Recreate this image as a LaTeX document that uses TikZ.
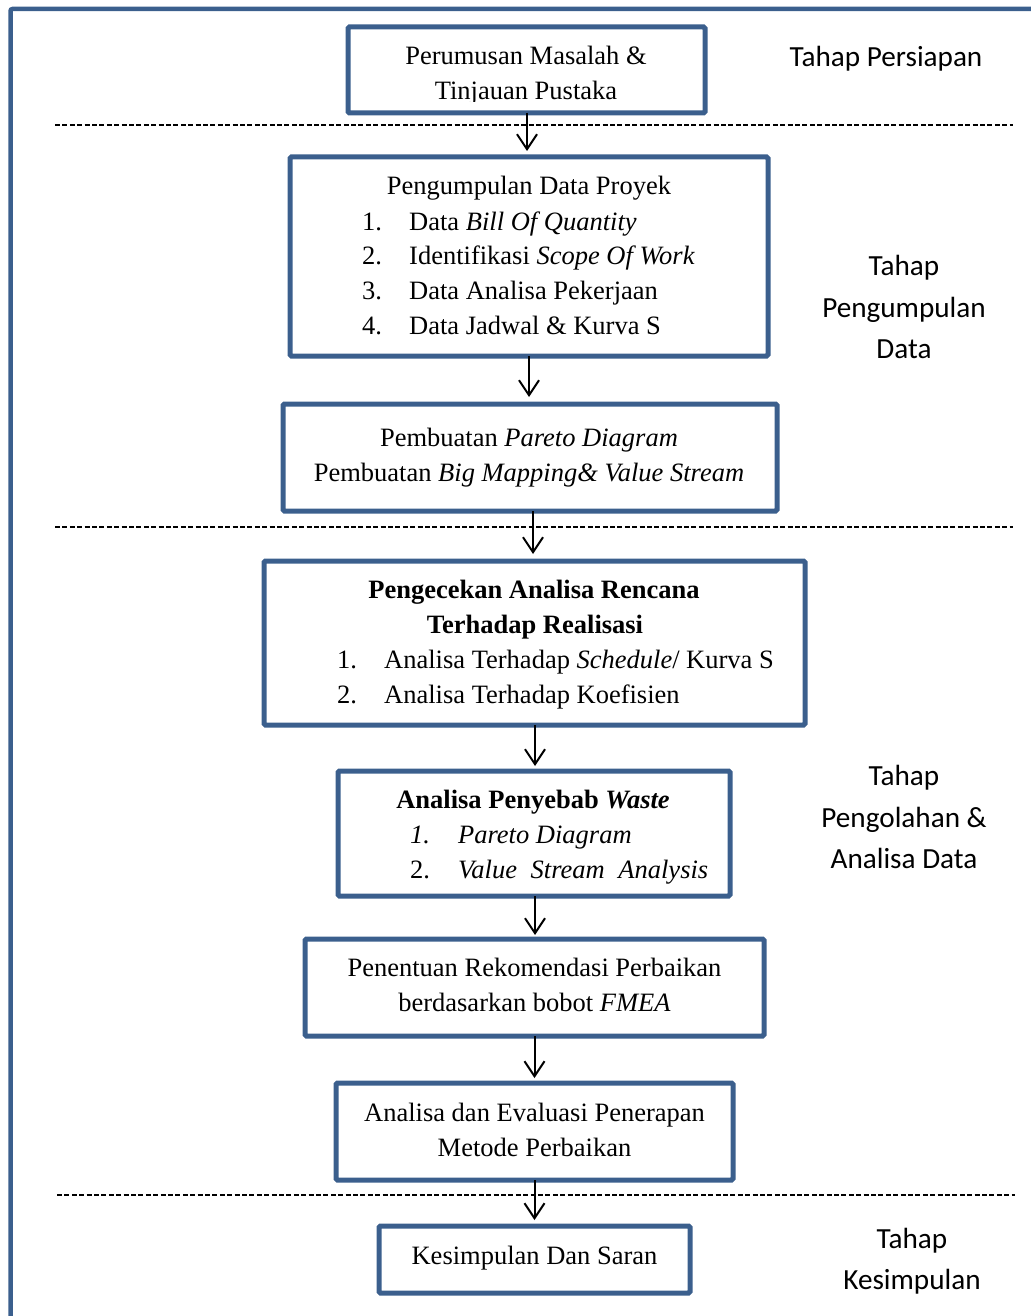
\documentclass[tikz,border=0pt]{standalone}
\usepackage{fontspec}
\setmainfont{Liberation Serif}
\newfontfamily\stagefont{Carlito}
\usetikzlibrary{arrows.meta}
\definecolor{frameblue}{HTML}{3B5F8D}

\begin{document}
\begin{tikzpicture}[x=1pt,y=-1pt,
  box/.style={draw=frameblue, line width=5pt, rounded corners=1.5pt, inner sep=0pt, outer sep=0pt},
  flow/.style={draw=black, line width=2pt, shorten >=1pt,
    -{Straight Barb[length=15pt,width=20pt,line width=2pt]}},
  sep/.style={draw=black, line width=1.8pt, dash pattern=on 5pt off 2.4pt},
  txt/.style={font=\fontsize{26.5}{35}\selectfont, inner sep=0pt, anchor=base},
  item/.style={txt, anchor=base west},
  stage/.style={font=\stagefont\fontsize{29.2}{41}\selectfont, inner sep=0pt, anchor=base}]
\useasboundingbox (0,0) rectangle (1030,1316);

% outer frame, running past the right and bottom edges
\draw[frameblue, line width=4.5pt, rounded corners=2pt] (1060,9) -- (10.5,9) -- (10.5,1340);

% separators between the stages
\coordinate (s1a) at (55,125);   \coordinate (s1b) at (1013,125);
\coordinate (s2a) at (55,527);   \coordinate (s2b) at (1013,527);
\coordinate (s3a) at (57,1195);  \coordinate (s3b) at (1015,1195);
\draw[sep] (s1a) -- (s1b);
\draw[sep] (s2a) -- (s2b);
\draw[sep] (s3a) -- (s3b);

% boxes
\node[box, minimum width=357pt, minimum height=86pt]  (b1) at (526.5,70) {};
\node[box, minimum width=478pt, minimum height=199pt] (b2) at (529,256.5) {};
\node[box, minimum width=494pt, minimum height=107pt] (b3) at (530,457.5) {};
\node[box, minimum width=541pt, minimum height=164pt] (b4) at (534.5,643) {};
\node[box, minimum width=392pt, minimum height=125pt] (b5) at (534,833.5) {};
\node[box, minimum width=459pt, minimum height=97pt]  (b6) at (534.5,987.5) {};
\node[box, minimum width=397pt, minimum height=97pt]  (b7) at (534.5,1131.5) {};
\node[box, minimum width=311pt, minimum height=67pt]  (b8) at (534.5,1259.5) {};

% box texts
\begin{scope}
  \clip (350,30) rectangle (703,102);
  \node[txt] (t1a) at (526,65) {Perumusan Masalah \&};
  \node[txt] (t1b) at (526,100) {Tinjauan Pustaka};
\end{scope}

\node[txt] (t2) at (529,194) {Pengumpulan Data Proyek};
\node[item] (n21) at (362,230) {1.};  \node[item] (i21) at (409,230) {Data \textit{Bill Of Quantity}};
\node[item] (n22) at (362,264) {2.};  \node[item] (i22) at (409,264) {Identifikasi \textit{Scope Of Work}};
\node[item] (n23) at (362,299) {3.};  \node[item] (i23) at (409,299) {Data Analisa Pekerjaan};
\node[item] (n24) at (362,334) {4.};  \node[item] (i24) at (409,334) {Data Jadwal \& Kurva S};

\node[txt] (t3a) at (529,446) {Pembuatan \textit{Pareto Diagram}};
\node[txt] (t3b) at (529,481) {Pembuatan \textit{Big Mapping\& Value Stream}};

\node[txt, font=\fontsize{26.5}{35}\selectfont\bfseries] (t4a) at (534,598) {Pengecekan Analisa Rencana};
\node[txt, font=\fontsize{26.5}{35}\selectfont\bfseries] (t4b) at (535,633) {Terhadap Realisasi};
\node[item] (n41) at (337,668) {1.};  \node[item] (i41) at (384,668) {Analisa Terhadap \textit{Schedule}/ Kurva S};
\node[item] (n42) at (337,703) {2.};  \node[item] (i42) at (384,703) {Analisa Terhadap Koefisien};

\node[txt, font=\fontsize{26.5}{35}\selectfont\bfseries] (t5) at (533,808) {Analisa Penyebab \textit{Waste}};
\node[item] (n51) at (410,843) {\textit{1.}};  \node[item] (i51) at (458,843) {\textit{Pareto Diagram}};
\node[item] (n52) at (410,878) {2.};  \node[item] (i52) at (458,878) {\textit{Value\hspace{7pt} Stream\hspace{7pt} Analysis}};

\node[txt] (t6a) at (534.5,976) {Penentuan Rekomendasi Perbaikan};
\node[txt] (t6b) at (534.5,1011) {berdasarkan bobot \textit{FMEA}};

\node[txt] (t7a) at (534.5,1121) {Analisa dan Evaluasi Penerapan};
\node[txt] (t7b) at (534.5,1156) {Metode Perbaikan};

\node[txt] (t8) at (534.5,1264) {Kesimpulan Dan Saran};

% stage labels
\node[stage] (p1) at (886,67) {Tahap Persiapan};
\node[stage] (p2a) at (904,275) {Tahap};
\node[stage] (p2b) at (904,317) {Pengumpulan};
\node[stage] (p2c) at (904,358) {Data};
\node[stage] (p3a) at (904,785) {Tahap};
\node[stage] (p3b) at (904,827) {Pengolahan \&};
\node[stage] (p3c) at (904,868) {Analisa Data};
\node[stage] (p4a) at (912,1248) {Tahap};
\node[stage] (p4b) at (912,1289) {Kesimpulan};

% flow arrows
\draw[flow, shorten >=6pt] ([xshift=0.5pt]b1.south) -- ([xshift=0.5pt]b1.south |- b2.north);
\draw[flow, shorten >=7pt] (b2.south) -- (b2.south |- b3.north);
\draw[flow, shorten >=7pt] ([xshift=3pt]b3.south) -- ([xshift=3pt]b3.south |- b4.north);
\draw[flow, shorten >=5pt] ([xshift=0.5pt]b4.south) -- ([xshift=0.5pt]b4.south |- b5.north);
\draw[flow, shorten >=4pt] ([xshift=1pt]b5.south) -- ([xshift=1pt]b5.south |- b6.north);
\draw[flow, shorten >=5pt] (b6.south) -- (b6.south |- b7.north);
\draw[flow, shorten >=6pt] (b7.south) -- (b7.south |- b8.north);
\end{tikzpicture}
\end{document}
